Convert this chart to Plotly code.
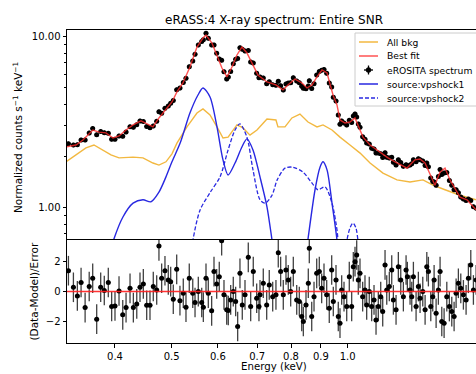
import plotly.graph_objects as go

# ---------------- data ----------------
energy = [
    0.3330, 0.3396, 0.3449, 0.3500, 0.3556, 0.3614, 0.3664, 0.3722, 0.3781, 0.3835,
    0.3896, 0.3948, 0.4000, 0.4064, 0.4124, 0.4178, 0.4244, 0.4300, 0.4358, 0.4414,
    0.4472, 0.4532, 0.4591, 0.4651, 0.4714, 0.4756, 0.4807, 0.4870, 0.4934, 0.4981,
    0.5032, 0.5100, 0.5166, 0.5234, 0.5290, 0.5359, 0.5433, 0.5482, 0.5553, 0.5628,
    0.5664, 0.5724, 0.5776, 0.5853, 0.5907, 0.5970, 0.6031, 0.6088, 0.6144, 0.6210,
    0.6249, 0.6308, 0.6373, 0.6433, 0.6484, 0.6543, 0.6603, 0.6674, 0.6761, 0.6825,
    0.6895, 0.6988, 0.7051,
    0.7080, 0.7172, 0.7269, 0.7343, 0.7443, 0.7539, 0.7608, 0.7680, 0.7760, 0.7843,
    0.7914, 0.7989, 0.8072, 0.8181, 0.8265, 0.8344, 0.8397, 0.8486, 0.8563, 0.8597,
    0.8679, 0.8758, 0.8851, 0.8942, 0.9026, 0.9109, 0.9206, 0.9300, 0.9389, 0.9449,
    0.9550, 0.9636, 0.9701, 0.9766, 0.9856, 0.9961, 1.0063, 1.0158, 1.0223, 1.0292,
    1.0361, 1.0426, 1.0496, 1.0607, 1.0704, 1.0776, 1.0886, 1.0990, 1.1092, 1.1180,
    1.1281, 1.1388, 1.1478, 1.1584, 1.1662, 1.1781, 1.1893, 1.1970, 1.2097, 1.2207,
    1.2323, 1.2451, 1.2584, 1.2648, 1.2783, 1.2869, 1.2952, 1.3090, 1.3208, 1.3297,
    1.3439, 1.3563, 1.3654, 1.3740, 1.3870, 1.3979, 1.4053, 1.4164, 1.4291, 1.4387,
    1.4484, 1.4617, 1.4773, 1.4924, 1.5065, 1.5204, 1.5324, 1.5462, 1.5609, 1.5771,
    1.5939, 1.6083, 1.6236, 1.6405, 1.6580,
]

flux = [
    2.36, 2.32, 2.33, 2.48, 2.48, 2.73, 2.90, 2.66, 2.78, 2.74,
    2.72, 2.51, 2.51, 2.62, 2.61, 2.76, 2.97, 2.95, 3.05, 3.21,
    3.18, 2.98, 2.93, 3.00, 3.19, 3.63, 3.56, 3.80, 3.92, 4.07,
    4.23, 4.89, 4.99, 5.38, 5.70, 6.65, 7.20, 7.88, 8.91, 9.35,
    9.56, 10.45, 9.76, 8.91, 8.91, 7.98, 7.39, 7.26, 6.23, 5.64,
    5.80, 6.25, 6.92, 7.35, 7.43, 8.60, 8.43, 8.23, 8.28, 7.10,
    7.01, 6.09, 5.74,
    5.80, 5.72, 5.30, 5.43, 5.23, 5.18, 5.47, 5.16, 4.86, 5.27,
    5.34, 5.37, 5.74, 5.49, 5.36, 5.12, 4.98, 4.95, 5.13, 5.51,
    4.96, 5.30, 5.96, 6.25, 6.34, 6.42, 6.10, 5.35, 5.07, 4.42,
    4.20, 3.48, 3.07, 3.21, 3.12, 3.04, 3.24, 3.14, 3.43, 3.52,
    3.38, 3.08, 2.95, 2.59, 2.51, 2.38, 2.35, 2.22, 2.20, 2.08,
    2.08, 2.06, 1.96, 2.09, 1.97, 1.95, 1.97, 1.84, 1.77, 1.90,
    1.83, 1.74, 1.78, 1.75, 1.77, 1.80, 1.90, 1.85, 1.93, 1.90,
    1.87, 1.76, 1.82, 1.73, 1.49, 1.42, 1.41, 1.35, 1.52, 1.67,
    1.56, 1.59, 1.60, 1.44, 1.35, 1.27, 1.27, 1.22, 1.15, 1.12,
    1.10, 1.12, 1.10, 1.01, 0.99,
]

resid = [
    1.41, 0.29, -0.29, 0.61, -1.08, 0.34, 0.90, -1.86, 0.29, 0.07,
    0.61, -1.01, -0.97, 0.04, -1.57, -1.08, 0.22, -1.08, -0.83, 0.29,
    0.52, -0.92, -0.92, 0.34, 0.11, 3.08, 0.90, 1.41, 0.79, 0.67,
    -0.52, 1.50, -0.61, -0.11, -1.05, 0.90, -0.11, -0.74, 0.00, -0.74,
    -1.05, 0.90, -0.11, -1.30, 1.35, 0.52, 1.01, 3.43, -0.22, -1.23,
    -1.28, -0.56, 0.00, -0.67, -2.36, 1.23, -0.90, -0.22, 2.31, -1.01,
    1.35, -0.45, -1.01,
    -0.22, 0.56, -0.90, 0.45, -0.34, -0.22, 2.63, 1.35, -0.22, 1.46,
    0.79, 0.00, 1.35, -0.56, -0.67, -1.68, -2.02, -0.90, 0.56, 2.92,
    -1.68, -0.34, 1.23, 1.35, 0.22, 0.90, -0.22, -1.12, 1.46, -0.67,
    0.79, -1.68, -2.13, 0.11, -0.34, -1.01, 1.01, -1.01, 1.68, 2.02,
    2.47, 0.79, 1.23, -0.34, 0.11, -0.90, 0.00, -1.01, -0.56, -1.91,
    -1.01, -0.34, -1.35, 1.80, 0.11, 0.34, 1.46, -0.56, -1.23, 1.68,
    0.79, -0.34, 1.46, 1.01, 0.11, -0.34, 1.01, -1.01, 0.34, -0.45,
    0.00, -1.23, 1.68, 1.35, -1.01, -0.34, 0.79, -1.46, 0.11, 1.35,
    -2.02, -2.13, -0.34, -1.01, -1.35, -1.68, -0.11, 0.56, 0.22, -0.22,
    -0.56, 0.90, 1.80, 0.11, 0.79,
]

model_E = [0.330, 0.343, 0.3526, 0.3667, 0.3756, 0.386, 0.3969, 0.4064, 0.4178, 0.4295,
           0.4431, 0.4556, 0.4645, 0.4756, 0.4889, 0.5006, 0.5105, 0.5227, 0.5373, 0.5524,
           0.5656, 0.5724, 0.5860, 0.5977, 0.6095, 0.6217, 0.6340, 0.6466, 0.6593, 0.6725,
           0.6858, 0.7022, 0.7277, 0.7539, 0.7750, 0.7903, 0.8125, 0.8353, 0.8519, 0.8689,
           0.8861, 0.9038, 0.9218, 0.9327, 0.9438, 0.9587, 0.9701, 0.9894, 1.009, 1.029,
           1.041, 1.062, 1.092, 1.122, 1.149, 1.172, 1.205, 1.238, 1.263, 1.303,
           1.329, 1.356, 1.382, 1.410, 1.438, 1.467, 1.496, 1.526, 1.556, 1.600,
           1.638, 1.657]
model_F = [2.26, 2.32, 2.48, 2.84, 2.76, 2.73, 2.55, 2.62, 2.84, 3.04,
           3.21, 3.04, 2.96, 3.34, 3.72, 4.14, 4.74, 5.35, 6.63, 8.68,
           9.80, 10.2, 9.16, 7.80, 6.54, 5.80, 6.63, 7.80, 8.68, 8.01,
           7.00, 5.96, 5.42, 5.21, 4.87, 5.21, 5.64, 5.35, 5.00, 5.21,
           5.80, 6.37, 6.12, 5.35, 4.55, 3.98, 3.25, 3.12, 3.16, 3.34,
           3.04, 2.58, 2.32, 2.17, 2.03, 1.95, 1.85, 1.77, 1.70, 1.90,
           1.92, 1.82, 1.59, 1.35, 1.61, 1.70, 1.45, 1.30, 1.15, 1.11,
           1.01, 0.97]

bkg_E = [0.330, 0.343, 0.3568, 0.3682, 0.3815, 0.3937, 0.4064, 0.4295, 0.4466, 0.4645,
         0.4756, 0.4889, 0.5006, 0.5105, 0.5311, 0.5524, 0.5656, 0.5815, 0.5977, 0.6120,
         0.6244, 0.6466, 0.6621, 0.6806, 0.6996, 0.7277, 0.7539, 0.7599, 0.7812, 0.8028,
         0.8286, 0.8553, 0.8861, 0.9074, 0.9401, 0.9701, 1.009, 1.050, 1.092, 1.118,
         1.149, 1.214, 1.278, 1.345, 1.399, 1.467, 1.556, 1.657]
bkg_F = [1.85, 2.03, 2.23, 2.32, 2.17, 2.03, 1.95, 1.97, 1.95, 1.82,
         1.77, 1.85, 2.06, 2.38, 2.96, 3.57, 3.77, 3.48, 2.96, 2.55,
         2.58, 3.04, 2.92, 2.65, 2.84, 3.29, 3.25, 2.96, 2.96, 3.34,
         3.52, 3.16, 2.96, 3.04, 2.84, 2.58, 2.32, 2.08, 1.82, 1.70,
         1.59, 1.45, 1.41, 1.45, 1.35, 1.27, 1.18, 1.11]

vps1_E = [0.389, 0.3983, 0.4127, 0.4295, 0.4466, 0.4608, 0.4756, 0.4889, 0.5006, 0.5170,
          0.5373, 0.5546, 0.5656, 0.5815, 0.5977, 0.6120, 0.6244, 0.6417, 0.6593, 0.6725,
          0.6887, 0.7080, 0.7277, 0.7423, 0.7508, 0.8459, 0.8553, 0.8793, 0.8967, 0.9074,
          0.9218, 0.9401, 0.9587, 0.9655]
vps1_F = [0.493, 0.654, 0.880, 1.06, 1.11, 1.08, 1.23, 1.51, 1.85, 2.38,
          3.57, 4.55, 5.00, 4.43, 2.96, 1.90, 1.55, 1.82, 2.26, 2.52,
          2.17, 1.51, 1.01, 0.646, 0.493, 0.493, 0.654, 1.27, 1.72, 1.85,
          1.66, 1.06, 0.646, 0.493]

vps2_E = [0.5395, 0.5438, 0.5592, 0.5815, 0.6048, 0.6244, 0.6417, 0.6543, 0.6725, 0.6887,
          0.7080, 0.7223, 0.7423, 0.7576, 0.7812, 0.8061, 0.8386, 0.8689, 0.8896, 0.9145,
          0.9401, 0.9587, 0.9625, 0.9701, 0.9894, 0.9972, 1.009, 1.021, 1.033, 1.041,
          1.050]
vps2_F = [0.493, 0.646, 0.967, 1.22, 1.51, 2.17, 2.84, 3.08, 2.58, 1.66,
          1.11, 1.06, 1.18, 1.45, 1.70, 1.72, 1.61, 1.39, 1.27, 1.32,
          1.06, 0.739, 0.646, 0.493, 0.493, 0.646, 0.759, 0.812, 0.759, 0.646,
          0.493]

x_tick_vals = [0.4, 0.5, 0.6, 0.7, 0.8, 0.9, 1.0]
x_tick_text = ["0.4", "0.5", "0.6", "0.7", "0.8", "0.9", "1.0"]
y_tick_vals = [1, 10]
y_tick_text = ["1.00", "10.00"]
y_minor_vals = [0.7, 0.8, 0.9, 2, 3, 4, 5, 6, 7, 8, 9]
r_tick_vals = [-2, 0, 2]

legend_labels = ["All bkg", "Best fit", "eROSITA spectrum", "source:vpshock1", "source:vpshock2"]

# ---------------- styling ----------------
FONT = "DejaVu Sans"
ORANGE = "rgba(240,172,30,0.85)"
RED = "rgba(255,40,40,0.8)"
BLUE = "rgb(40,40,225)"
W, H = 476, 374
ML, MR, MT, MB = 67, 0, 30, 31
PW, PH = W - ML - MR, H - MT - MB
SPLIT = 104 / PH


def pp(px, py):
    return (px - ML) / PW, (H - MB - py) / PH


fig = go.Figure()

fig.add_trace(go.Scatter(x=bkg_E, y=bkg_F, mode="lines", line=dict(color=ORANGE, width=1.4),
                         xaxis="x", yaxis="y", showlegend=False))
fig.add_trace(go.Scatter(x=energy, y=flux, mode="markers",
                         marker=dict(color="black", size=5),
                         error_y=dict(type="percent", value=3, color="rgba(0,0,0,0.8)", thickness=1.2, width=0),
                         error_x=dict(type="percent", value=0.9, color="rgba(0,0,0,0.8)", thickness=1.2, width=0),
                         xaxis="x", yaxis="y", showlegend=False))
fig.add_trace(go.Scatter(x=model_E, y=model_F, mode="lines", line=dict(color=RED, width=1.4),
                         xaxis="x", yaxis="y", showlegend=False))
fig.add_trace(go.Scatter(x=vps1_E, y=vps1_F, mode="lines", line=dict(color=BLUE, width=1.4, shape="spline", smoothing=0.8),
                         xaxis="x", yaxis="y", showlegend=False))
fig.add_trace(go.Scatter(x=vps2_E, y=vps2_F, mode="lines",
                         line=dict(color=BLUE, width=1.3, dash="4px,2px", shape="spline", smoothing=0.8),
                         xaxis="x", yaxis="y", showlegend=False))

fig.add_trace(go.Scatter(x=energy, y=resid, mode="markers",
                         marker=dict(color="black", size=5),
                         error_y=dict(type="constant", value=1, color="rgba(0,0,0,0.75)", thickness=1.3, width=0),
                         error_x=dict(type="percent", value=0.9, color="rgba(0,0,0,0.75)", thickness=1.3, width=0),
                         xaxis="x2", yaxis="y2", showlegend=False))

shapes = [dict(type="line", xref="paper", x0=0, x1=1, yref="y2", y0=0, y1=0,
               line=dict(color="rgba(255,30,30,0.9)", width=1.5), layer="above")]

# legend box drawn by hand (matplotlib-like compact legend)
bx0, by0 = pp(355, 106)
bx1, by1 = pp(482, 33)
shapes.append(dict(type="rect", xref="paper", yref="paper", x0=bx0, x1=bx1, y0=by0, y1=by1,
                   line=dict(color="#cccccc", width=1), fillcolor="rgba(255,255,255,0.85)", layer="above"))
rows_y = [42, 56, 70, 84, 98]
styles = [dict(color=ORANGE, width=1.5), dict(color=RED, width=1.5), None,
          dict(color=BLUE, width=1.5), dict(color=BLUE, width=1.4, dash="4px,2px")]
annotations = []
for ry, st, lab in zip(rows_y, styles, legend_labels):
    lx0, ly = pp(359, ry)
    lx1, _ = pp(378, ry)
    if st is not None:
        shapes.append(dict(type="line", xref="paper", yref="paper", x0=lx0, x1=lx1, y0=ly, y1=ly,
                           line=st, layer="above"))
    else:
        cx, cy = pp(368.5, ry)
        hx0, _ = pp(364, ry)
        hx1, _ = pp(373, ry)
        _, vy0 = pp(368.5, ry - 4.5)
        _, vy1 = pp(368.5, ry + 4.5)
        shapes.append(dict(type="line", xref="paper", yref="paper", x0=hx0, x1=hx1, y0=cy, y1=cy,
                           line=dict(color="black", width=1.3), layer="above"))
        shapes.append(dict(type="line", xref="paper", yref="paper", x0=cx, x1=cx, y0=vy0, y1=vy1,
                           line=dict(color="black", width=1.3), layer="above"))
        r0x, r0y = pp(366, ry + 2.5)
        r1x, r1y = pp(371, ry - 2.5)
        shapes.append(dict(type="circle", xref="paper", yref="paper", x0=r0x, x1=r1x, y0=r0y, y1=r1y,
                           line=dict(color="black", width=0.5), fillcolor="black", layer="above"))
    tx, ty = pp(385, ry)
    annotations.append(dict(text=lab, xref="paper", yref="paper", x=tx, y=ty, xanchor="left",
                            yanchor="middle", showarrow=False, font=dict(family=FONT, size=9.2, color="black")))

# axis titles
ax, ay = pp(17, 138)
annotations.append(dict(text="Normalized counts s<sup>−1</sup> keV<sup>−1</sup>", xref="paper", yref="paper",
                        x=ax, y=ay, textangle=-90, showarrow=False, xanchor="center", yanchor="middle",
                        font=dict(family=FONT, size=10.5, color="black")))
ax, ay = pp(33, 291.5)
annotations.append(dict(text="(Data-Model)/Error", xref="paper", yref="paper",
                        x=ax, y=ay, textangle=-90, showarrow=False, xanchor="center", yanchor="middle",
                        font=dict(family=FONT, size=10.5, color="black")))
ax, ay = pp(274, 366)
annotations.append(dict(text="Energy (keV)", xref="paper", yref="paper",
                        x=ax, y=ay, showarrow=False, xanchor="center", yanchor="middle",
                        font=dict(family=FONT, size=10.2, color="black")))

xr = [-0.4800, 0.2194]
axis_common = dict(showgrid=False, zeroline=False, linecolor="black", linewidth=1,
                   tickcolor="black", tickfont=dict(family=FONT, size=10, color="black"))

fig.update_layout(
    width=W, height=H,
    margin=dict(l=ML, r=MR, t=MT, b=MB, pad=0),
    paper_bgcolor="white", plot_bgcolor="white",
    showlegend=False,
    font=dict(family=FONT, size=10, color="black"),
    title=dict(text="eRASS:4 X-ray spectrum: Entire SNR", x=(274 - ML) / PW, xref="paper", xanchor="center",
               y=1 - 20 / H, yref="container", yanchor="middle",
               font=dict(family=FONT, size=12, color="black")),
    xaxis=dict(type="log", range=xr, domain=[0, 1], anchor="y", showticklabels=False, ticks="",
               showline=True, mirror=True, **axis_common),
    xaxis2=dict(type="log", range=xr, domain=[0, 1], anchor="y2", matches="x",
                tickvals=x_tick_vals, ticktext=x_tick_text, ticks="outside", ticklen=3.5, tickwidth=1,
                showline=True, mirror=False, **axis_common),
    yaxis=dict(type="log", range=[-0.1842, 1.038], domain=[SPLIT, 1], anchor="x",
               tickvals=y_tick_vals, ticktext=y_tick_text, ticks="outside", ticklen=3.5, tickwidth=1,
               minor=dict(tickvals=y_minor_vals, ticks="outside", ticklen=2, tickcolor="black", tickwidth=1),
               showline=True, mirror=False, **axis_common),
    yaxis2=dict(range=[-3.47, 3.55], domain=[0, SPLIT], anchor="x2",
                tickvals=r_tick_vals, ticks="outside", ticklen=3.5, tickwidth=1,
                showline=True, mirror=False, **axis_common),
    shapes=shapes,
    annotations=annotations,
)

fig.write_html("out.html")
